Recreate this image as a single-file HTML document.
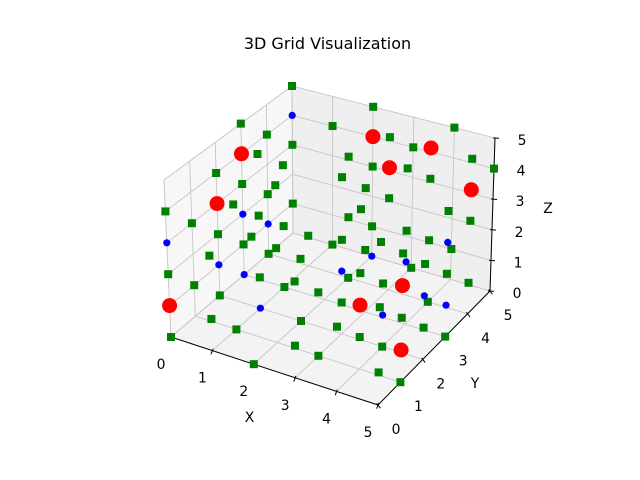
<!DOCTYPE html>
<html>
<head>
<meta charset="utf-8">
<style>
  html, body { margin: 0; padding: 0; background: #ffffff; }
  svg { display: block; font-family: "DejaVu Sans", "Liberation Sans", sans-serif; }
</style>
</head>
<body>
<svg id="chart" width="640" height="480" viewBox="0 0 640 480" xmlns="http://www.w3.org/2000/svg">
  <rect x="0" y="0" width="640" height="480" fill="#ffffff"/>
  <text x="327.5" y="49" font-size="16" text-anchor="middle" fill="#000">3D Grid Visualization</text>
  <g id="panes"></g>
  <g id="grid"></g>
  <g id="axes"></g>
  <g id="points"></g>
</svg>
<script>
// ---- data (integer grid coordinates) ----
const tickValues = [0, 1, 2, 3, 4, 5];
const tickLabels = ["0", "1", "2", "3", "4", "5"];

const greenX = [0,1,0,0,1,0,2,1,3,0,0,2,0,1,0,0,1,2,0,1,1,0,2,3,0,2,1,0,1,2,1,0,0,1,3,3,3,0,2,1,1,4,0,3,3,2,2,4,3,3,5,4,2,4,5,3,3,4,5,5,2,4,5,4,3,4,5,5,4,3,2,5,5,4,4,5,5,5,5,4,4,5,5];
const greenY = [5,5,3,4,2,5,4,3,2,2,3,1,4,1,5,0,2,4,1,3,4,2,0,2,3,1,5,4,0,2,2,0,1,3,0,1,2,2,2,0,1,0,0,0,1,0,5,5,4,5,4,3,5,4,5,3,4,1,3,4,5,3,0,4,3,5,1,2,1,5,4,3,4,2,4,0,1,2,3,1,2,0,1];
const greenZ = [5,4,5,4,5,3,4,4,5,4,3,5,2,4,1,4,3,2,3,2,1,2,4,3,1,3,0,0,3,2,1,2,1,0,3,2,1,0,0,1,0,2,0,1,0,0,5,5,5,4,5,5,3,4,4,4,3,5,4,3,1,3,5,2,2,1,4,3,3,0,0,2,1,2,0,3,2,1,0,1,0,1,0];

const blueX = [0,0,0,0,0,3,0,1,5,2,4,5,5,4];
const blueY = [5,3,4,0,2,2,3,2,3,5,3,2,3,2];
const blueZ = [4,2,1,3,1,2,0,0,3,0,2,2,1,1];

const redX = [0,0,0,2,4,3,5,5,4,5];
const redY = [3,2,0,5,4,4,4,1,1,1];
const redZ = [4,3,1,4,5,4,4,3,2,1];

// ---- projection (trilinear fit of box corners) ----
const LIM = 5;
const C = {
  F00:[171,337], F50:[378,405], F05:[293,233], F55:[490,291],
  T00:[164,180], T50:[381,242], T05:[292,86],  T55:[495,138]
};
function bil(p00,p10,p01,p11,a,b){
  return [
    p00[0]*(1-a)*(1-b)+p10[0]*a*(1-b)+p01[0]*(1-a)*b+p11[0]*a*b,
    p00[1]*(1-a)*(1-b)+p10[1]*a*(1-b)+p01[1]*(1-a)*b+p11[1]*a*b
  ];
}
function proj(x,y,z){
  const a=x/LIM, b=y/LIM, c=z/LIM;
  const f=bil(C.F00,C.F50,C.F05,C.F55,a,b);
  const t=bil(C.T00,C.T50,C.T05,C.T55,a,b);
  return [f[0]+(t[0]-f[0])*c, f[1]+(t[1]-f[1])*c];
}
const NS='http://www.w3.org/2000/svg';
function mk(tag, parent){ const e=document.createElementNS(NS,tag); parent.appendChild(e); return e; }
function poly(pts){ return pts.map(p=>p[0].toFixed(2)+','+p[1].toFixed(2)).join(' '); }

// panes
const panes=document.getElementById('panes');
const paneDefs=[
  ['pane-x0', [[0,0,0],[0,LIM,0],[0,LIM,LIM],[0,0,LIM]], '#f7f7f7'],
  ['pane-y5', [[0,LIM,0],[LIM,LIM,0],[LIM,LIM,LIM],[0,LIM,LIM]], '#efefef'],
  ['pane-floor', [[0,0,0],[LIM,0,0],[LIM,LIM,0],[0,LIM,0]], '#f3f3f3']
];
paneDefs.forEach(d=>{
  const p=mk('polygon',panes);
  
  
  p.setAttribute('points', poly(d[1].map(q=>proj(q[0],q[1],q[2]))));
  p.setAttribute('fill', d[2]);
  p.setAttribute('stroke', '#e6e6e6');
  p.setAttribute('stroke-width', '0.8');
});

// grid lines
const grid=document.getElementById('grid');
function gl(a,b,name){
  const l=mk('line',grid);
  
  
  l.setAttribute('x1',a[0]); l.setAttribute('y1',a[1]);
  l.setAttribute('x2',b[0]); l.setAttribute('y2',b[1]);
  l.setAttribute('stroke','#c6c6c6'); l.setAttribute('stroke-width','0.9');
}
tickValues.forEach(v=>{
  // x=0 pane
  gl(proj(0,v,0),proj(0,v,LIM),'grid-line');
  gl(proj(0,0,v),proj(0,LIM,v),'grid-line');
  // y=5 pane
  gl(proj(v,LIM,0),proj(v,LIM,LIM),'grid-line');
  gl(proj(0,LIM,v),proj(LIM,LIM,v),'grid-line');
  // floor
  gl(proj(v,0,0),proj(v,LIM,0),'grid-line');
  gl(proj(0,v,0),proj(LIM,v,0),'grid-line');
});

// axes lines, ticks and labels
const axes=document.getElementById('axes');
function axisLine(a,b,name){
  const l=mk('line',axes);
  
  
  l.setAttribute('x1',a[0]); l.setAttribute('y1',a[1]);
  l.setAttribute('x2',b[0]); l.setAttribute('y2',b[1]);
  l.setAttribute('stroke','#000'); l.setAttribute('stroke-width','1');
}
axisLine(proj(0,0,0),proj(LIM,0,0),'x-axis-line');
axisLine(proj(LIM,0,0),proj(LIM,LIM,0),'y-axis-line');
axisLine(proj(LIM,LIM,0),proj(LIM,LIM,LIM),'z-axis-line');

function tick(p,off,label,name){
  const n=Math.hypot(off[0],off[1]);
  const dx=off[0]/n, dy=off[1]/n;
  const l=mk('line',axes);
  
  
  l.setAttribute('x1',p[0]-dx*2); l.setAttribute('y1',p[1]-dy*2);
  l.setAttribute('x2',p[0]+dx*4); l.setAttribute('y2',p[1]+dy*4);
  l.setAttribute('stroke','#000'); l.setAttribute('stroke-width','1');
  const t=mk('text',axes);
  
  
  t.setAttribute('x',p[0]+off[0]); t.setAttribute('y',p[1]+off[1]+5);
  t.setAttribute('font-size','13.9'); t.setAttribute('text-anchor','middle');
  t.setAttribute('fill','#000');
  t.textContent=label;
}
tickValues.forEach((v,i)=>{
  tick(proj(v,0,0),[-10,27],tickLabels[i],'x-tick');
  tick(proj(LIM,v,0),[18,24],tickLabels[i],'y-tick');
  tick(proj(LIM,LIM,v),[27,2],tickLabels[i],'z-tick');
});
function axTitle(x,y,s,name){
  const t=mk('text',axes);
  
  
  t.setAttribute('x',x); t.setAttribute('y',y);
  t.setAttribute('font-size','13.9'); t.setAttribute('text-anchor','middle');
  t.setAttribute('fill','#000');
  t.textContent=s;
}
axTitle(249.5,422,'X','x-axis-title');
axTitle(475,388,'Y','y-axis-title');
axTitle(548,213,'Z','z-axis-title');

// points
const pts=document.getElementById('points');
for(let i=0;i<greenX.length;i++){
  const p=proj(greenX[i],greenY[i],greenZ[i]);
  const r=mk('rect',pts);
  
  
  r.setAttribute('x',p[0]-4); r.setAttribute('y',p[1]-4);
  r.setAttribute('width',8); r.setAttribute('height',8);
  r.setAttribute('fill','#008000');
}
for(let i=0;i<blueX.length;i++){
  const p=proj(blueX[i],blueY[i],blueZ[i]);
  const c=mk('circle',pts);
  
  
  c.setAttribute('cx',p[0]); c.setAttribute('cy',p[1]); c.setAttribute('r',3.6);
  c.setAttribute('fill','#0000ff');
}
for(let i=0;i<redX.length;i++){
  const p=proj(redX[i],redY[i],redZ[i]);
  const c=mk('circle',pts);
  
  
  c.setAttribute('cx',p[0]); c.setAttribute('cy',p[1]); c.setAttribute('r',7.5);
  c.setAttribute('fill','#ff0000');
}
</script>
</body>
</html>
